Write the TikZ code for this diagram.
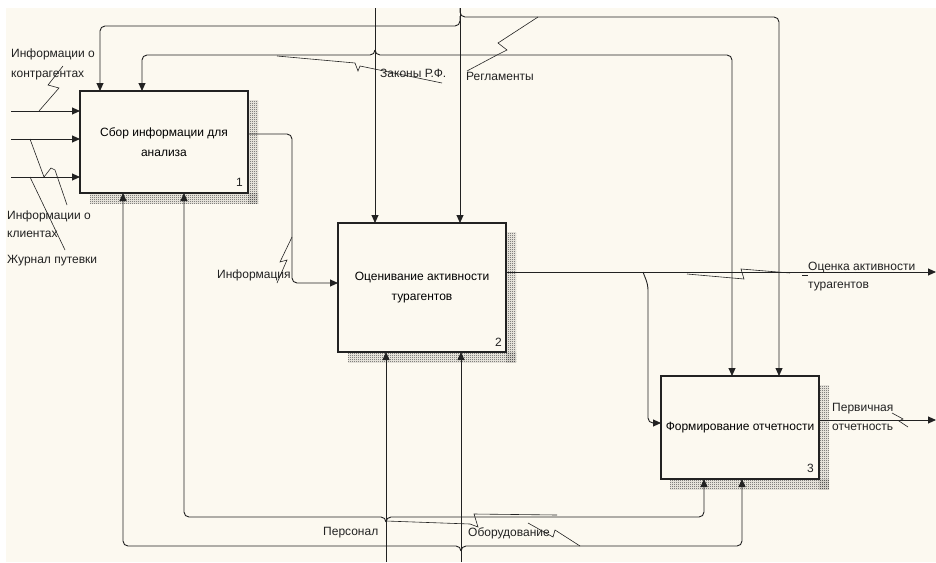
\documentclass[tikz,border=0pt]{standalone}
\usepackage{fontspec}
\setmainfont{Liberation Sans}
\usetikzlibrary{arrows.meta,calc,patterns.meta}
\definecolor{paper}{HTML}{FCF9F0}
\definecolor{ink}{HTML}{222222}
% fine checkered shading used for the box shadows
\tikzdeclarepattern{name=shadehatch, type=uncolored,
  bounding box={(0pt,0pt) and (2pt,2pt)}, tile size={(2pt,2pt)},
  code={\pgfpathrectangle{\pgfpoint{0pt}{0pt}}{\pgfpoint{1pt}{1pt}}%
        \pgfpathrectangle{\pgfpoint{1pt}{1pt}}{\pgfpoint{1pt}{1pt}}%
        \pgfusepath{fill}}}
\begin{document}
\begin{tikzpicture}[x=1pt,y=-1pt,
  font=\fontsize{12}{14}\selectfont,
  actbox/.style={draw=ink, line width=2pt, fill=paper, align=center,
    inner sep=2pt, outer sep=0pt, font=\fontsize{12}{20}\selectfont},
  flow/.style={draw=ink, line width=0.9pt, -{Triangle[length=8pt,width=7pt]},
    rounded corners=5pt},
  squig/.style={draw=ink, line width=0.6pt},
  lbl/.style={inner sep=0pt, anchor=base west, text=ink},
  num/.style={inner sep=0pt, anchor=south east, text=ink},
  shade/.style={pattern=shadehatch, pattern color=black!75}]

\useasboundingbox (0,0) rectangle (936,562);
\fill[white] (0,0) rectangle (936,562);
\fill[paper] (6,8) rectangle (936,562);

% shadows
\fill[shade] (248,100) rectangle (258,203);
\fill[shade] (90,193) rectangle (258,203);
\fill[shade] (506,232) rectangle (516,362);
\fill[shade] (348,352) rectangle (516,362);
\fill[shade] (819,385) rectangle (829,489);
\fill[shade] (670,479) rectangle (829,489);

% activity boxes
\node[actbox, minimum width=168pt, minimum height=102pt] (b1) at (164,142)
  {Сбор информации для\\анализа};
\node[actbox, minimum width=168pt, minimum height=129pt] (b2) at (422,287.5)
  {Оценивание активности\\турагентов};
\node[actbox, minimum width=158pt, minimum height=103pt, inner sep=0pt] (b3) at (740,427.5)
  {Формирование отчетности};
\node[num] at ($(b1.south east)+(-5,-6)$) {1};
\node[num] at ($(b2.south east)+(-4,-5)$) {2};
\node[num] at ($(b3.south east)+(-5,-6)$) {3};

% inputs of box 1
\coordinate (in1) at (11,111);
\coordinate (in2) at (11,139);
\coordinate (in3) at (11,177);
\draw[flow] (in1) -- (in1 -| b1.west);
\draw[flow] (in2) -- (in2 -| b1.west);
\draw[flow] (in3) -- (in3 -| b1.west);

% controls: Регламенты
\coordinate (regTop) at (460,8);
\coordinate (regL) at (100,26);
\coordinate (regR) at (779,17);
\draw[flow] (regTop) -- (regTop |- b2.north);
\draw[flow] (460,16) -- (460,26) -- (regL) -- (regL |- b1.north);
\draw[flow] (regTop) -- (460,17) -- (regR) -- (regR |- b3.north);

% controls: Законы Р.Ф.
\coordinate (lawTop) at (375,8);
\coordinate (lawL) at (142,55);
\coordinate (lawR) at (732,55);
\draw[flow] (lawTop) -- (lawTop |- b2.north);
\draw[flow] (375,50) -- (375,55) -- (lawL) -- (lawL |- b1.north);
\draw[flow] (375,50) -- (375,55) -- (lawR) -- (lawR |- b3.north);

% mechanisms: Персонал
\coordinate (perBot) at (386,562);
\coordinate (perL) at (184,517);
\coordinate (perR) at (704,517);
\draw[flow] (perBot) -- (perBot |- b2.south);
\draw[flow] (386,522) -- (386,517) -- (perL) -- (perL |- b1.south);
\draw[flow] (386,522) -- (386,517) -- (perR) -- (perR |- b3.south);

% mechanisms: Оборудование
\coordinate (eqBot) at (461,562);
\coordinate (eqL) at (123,546);
\coordinate (eqR) at (742,546);
\draw[flow] (eqBot) -- (eqBot |- b2.south);
\draw[flow] (461,551) -- (461,546) -- (eqL) -- (eqL |- b1.south);
\draw[flow] (461,551) -- (461,546) -- (eqR) -- (eqR |- b3.south);

% box 1 -> box 2
\coordinate (o1) at (292,134);
\coordinate (i2) at (292,283);
\draw[flow] (o1 -| b1.east) -- (o1) -- (i2) -- (i2 -| b2.west);

% box 2 outputs
\coordinate (o2) at (936,272);
\coordinate (i3) at (648,423);
\draw[flow] (o2 -| b2.east) -- (o2);
\draw[flow] (643,272) -- (648,285) -- (i3) -- (i3 -| b3.west);

% box 3 output
\coordinate (o3) at (936,420);
\draw[flow] (o3 -| b3.east) -- (o3);

% labels
\node[lbl] at (11,57) {Информации о};
\node[lbl] at (11,77) {контрагентах};
\node[lbl] at (7,219) {Информации о};
\node[lbl] at (7,237) {клиентах};
\node[lbl] at (7,263) {Журнал путевки};
\node[lbl] at (217,278) {Информация};
\node[lbl] at (380,77) {Законы Р.Ф.};
\node[lbl] at (466,80) {Регламенты};
\node[lbl] at (808,270) {Оценка активности};
\node[lbl] at (808,288) {турагентов};
\node[lbl] at (832,411) {Первичная};
\node[lbl] at (832,430) {отчетность};
\node[lbl] at (323,535) {Персонал};
\node[lbl] at (468,536) {Оборудование};

% label leaders
\draw[squig] (63,66) -- (48,85) -- (59,88) -- (39,111);
\draw[squig] (30,139) -- (44,177) -- (51,168) -- (55,170) -- (67,205);
\draw[squig] (30,177) -- (65,250);
\draw[squig] (292,237) -- (280,262) -- (287,260) -- (277,283);
\draw[squig] (277,56) -- (355,63) -- (358,71) -- (360,66) -- (442,83);
\draw[squig] (538,17) -- (498,43) -- (507,50) -- (497,55) -- (467,71);
\draw[squig] (687,274) -- (744,279) -- (741,269) -- (790,273);
\draw[squig] (802,275) -- (808,275);
\draw[squig] (892,413) -- (903,419) -- (899,421) -- (908,427);
\draw[squig] (386,521) -- (470,524) -- (478,527) -- (474,514) -- (557,515);
\draw[squig] (528,523) -- (553,537) -- (555,530) -- (580,546);
\end{tikzpicture}
\end{document}
